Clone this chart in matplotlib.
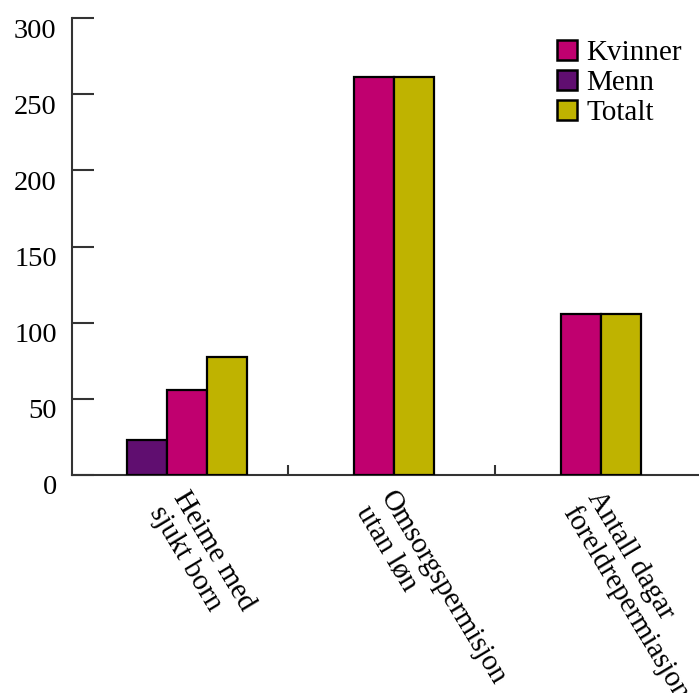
import numpy as np
import matplotlib
matplotlib.use('Agg')
import matplotlib.pyplot as plt
from matplotlib.patches import Patch
import matplotlib.transforms as mtransforms

# ---- data ----
categories = ["Heime med\nsjukt born", "Omsorgspermisjon\nutan løn", "Antall dagar\nforeldrepermiasjon"]
kvinner = [55.5, 261, 106]
menn = [23, np.nan, np.nan]
totalt = [77.5, 261, 106]
yticks = [0, 50, 100, 150, 200, 250, 300]

colors = {"Kvinner": "#C0006F", "Menn": "#600E70", "Totalt": "#BFB300"}
series_draw_order = [("Menn", menn), ("Kvinner", kvinner), ("Totalt", totalt)]
legend_order = ["Kvinner", "Menn", "Totalt"]

FONT = ["Liberation Serif", "DejaVu Serif"]
plt.rcParams['font.family'] = FONT

fig = plt.figure(figsize=(6.99, 6.93), dpi=100)
ax = fig.add_axes([72/699, 218/693, 627/699, 457/693])

width = 40/207
shift = 0.01
for i in range(len(categories)):
    present = [(name, vals[i]) for name, vals in series_draw_order if not np.isnan(vals[i])]
    n = len(present)
    for j, (name, v) in enumerate(present):
        x = i + 0.5 + shift + (j - (n - 1) / 2) * width
        ax.bar(x, v, width=width, color=colors[name], edgecolor='black', linewidth=1.6, zorder=3)

ax.set_xlim(1 - 216/207, 2 + 204/207)
ax.set_ylim(0, 300)

for s in ['top', 'right']:
    ax.spines[s].set_visible(False)
for s in ['left', 'bottom']:
    ax.spines[s].set_color('#333333')
    ax.spines[s].set_linewidth(1.5)

ax.set_yticks(yticks)
ax.set_yticklabels([str(t) for t in yticks])
ax.tick_params(axis='y', direction='in', length=16, width=1.5, color='#333333', pad=11, labelsize=20.5)
ax.set_xticks([1, 2])
ax.set_xticklabels([])
ax.tick_params(axis='x', direction='in', length=7, width=1.5, color='#333333')

off = mtransforms.ScaledTranslation(0, -0.1, fig.dpi_scale_trans)
for lab in ax.get_yticklabels():
    lab.set_transform(lab.get_transform() + off)

tr = ax.get_xaxis_transform() + mtransforms.ScaledTranslation(0.06, -0.12, fig.dpi_scale_trans)
for i, cat in enumerate(categories):
    ax.text(i + 0.5, 0, cat, transform=tr, rotation=-59, rotation_mode='anchor',
            ha='left', va='top', fontsize=21, color='black', linespacing=1.1)

handles = [Patch(facecolor=colors[n], edgecolor='black', linewidth=1.8) for n in legend_order]
fig.legend(handles, legend_order, loc='upper left', bbox_to_anchor=(557/699, 1 - 40/693),
           frameon=False, fontsize=21, handlelength=0.7, handleheight=0.7,
           handletextpad=0.3, labelspacing=0.12, borderaxespad=0, borderpad=0)

fig.savefig('out.png', dpi=100)
